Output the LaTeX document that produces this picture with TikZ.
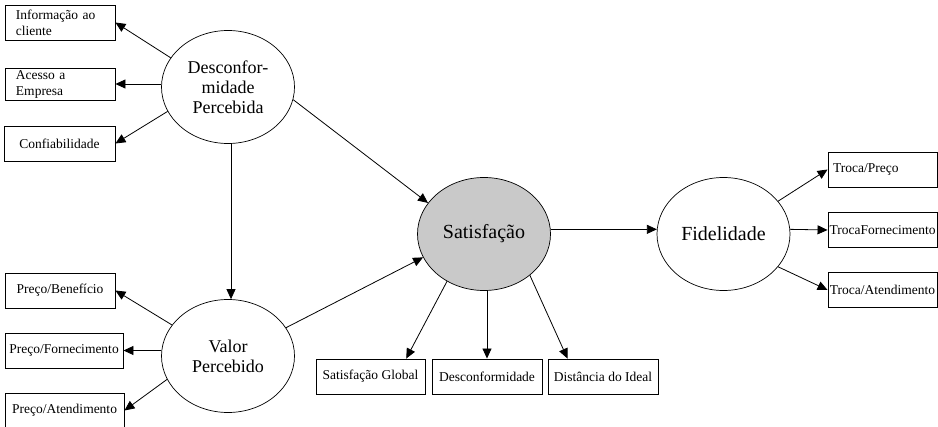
\documentclass[tikz,border=0pt]{standalone}
\usepackage{fontspec}
\setmainfont{Liberation Serif}
\usetikzlibrary{shapes.geometric,arrows.meta,calc}
\definecolor{satgray}{RGB}{201,201,201}

\begin{document}
\begin{tikzpicture}[x=1pt,y=-1pt,
    box/.style={draw,line width=0.9pt,minimum height=35pt,inner sep=0pt,font=\fontsize{13.5}{16}\selectfont},
    latent/.style={draw,ellipse,line width=0.7pt,minimum width=133pt,minimum height=113pt,inner sep=0pt,align=center,font=\fontsize{18}{20}\selectfont},
    bigtext/.style={font=\fontsize{20}{22}\selectfont},
    link/.style={line width=0.8pt,-{Triangle[length=10pt,width=9pt]}}]

  \useasboundingbox (0,0) rectangle (938,427);

  \node[latent] (desc) at (228,87) {Desconfor-\\midade\\Percebida};
  \node[latent] (valor) at (228,356) {Valor\\Percebido};
  \node[latent,bigtext,fill=satgray] (sat) at (484,234) {Satisfação};
  \node[latent,bigtext] (fid) at (723.5,234) {Fidelidade};

  \node[box,minimum width=110pt,text width=88pt,align=left] (info) at (60,22.5) {Informação ao\\cliente};
  \node[box,minimum width=110pt,minimum height=32pt,text width=88pt,align=left] (acesso) at (60,84) {Acesso a\\Empresa};
  \node[box,minimum width=111pt] (conf) at (59.5,143.5) {Confiabilidade};

  \node[box,minimum width=110pt] (pben) at (60,290.5) {Preço/Benefício};
  \node[box,minimum width=118pt] (pforn) at (64,350.5) {Preço/Fornecimento};
  \node[box,minimum width=119pt] (patend) at (64.5,410.5) {Preço/Atendimento};

  \node[box,minimum width=109pt] (sglob) at (370.5,376.5) {Satisfação Global};
  \node[box,minimum width=110pt] (dconf) at (487,376.5) {Desconformidade};
  \node[box,minimum width=110pt] (dist) at (603,376.5) {Distância do Ideal};

  \node[box,minimum width=109pt,text width=99pt,align=left] (tpreco) at (882.5,169.5) {Troca/Preço};
  \node[box,minimum width=109pt] (tforn) at (882.5,230) {TrocaFornecimento};
  \node[box,minimum width=109pt] (tatend) at (882.5,290) {Troca/Atendimento};

  \draw[link] (desc.153) -- (info.east);
  \draw[link] (acesso.east -| desc.west) -- (acesso.east);
  \draw[link] (desc.202) -- (conf.east);
  \draw[link] ([xshift=3pt]desc.south) -- ([xshift=3pt]valor.north);
  \draw[link] (desc.-11) -- (sat.151);

  \draw[link] (valor.151) -- (pben.east);
  \draw[link] (pforn.east -| valor.west) -- (pforn.east);
  \draw[link] (valor.201) -- (patend.east);
  \draw[link] (valor.26) -- (sat.201);

  \draw[link] (sat.232) -- ($(sglob.north)!0.65!(sglob.north east)$);
  \draw[link] (dconf.north |- sat.south) -- (dconf.north);
  \draw[link] (sat.-42) -- ($(dist.north west)!0.36!(dist.north)$);
  \draw[link] (sat.4) -- (fid.176);

  \draw[link] (fid.31) -- (tpreco.west);
  \draw[link] (fid.4) -- (tforn.west);
  \draw[link] (fid.-31) -- (tatend.west);

\end{tikzpicture}
\end{document}
